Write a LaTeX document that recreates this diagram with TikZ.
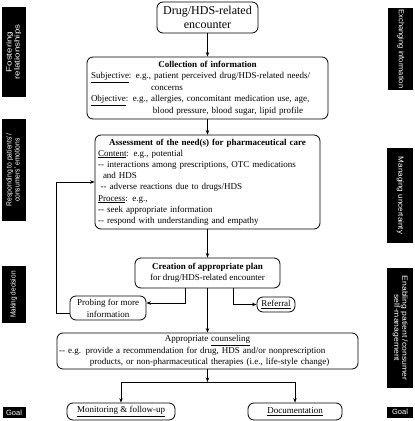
\documentclass[tikz,border=0pt]{standalone}
\usepackage{fontspec}
\setmainfont{Liberation Serif}
\setsansfont{Liberation Sans}
\usetikzlibrary{arrows.meta}
\newcommand\dd{-\kern0.2pt-}
\newcommand\stlab[2]{\scalebox{#1}[1]{\def\arraystretch{0.95}\begin{tabular}{@{}c@{}}#2\end{tabular}}}
\begin{document}
\begin{tikzpicture}[x=1pt,y=-1pt,
  box/.style={draw, rounded corners=6pt, line width=0.8pt, inner xsep=3pt, inner ysep=0pt,
    font=\fontsize{9}{11.5}\selectfont},
  lab/.style={fill=black, text=white, inner sep=0pt, align=center,
    font=\sffamily\fontsize{7.5}{8.5}\selectfont},
  arr/.style={-{Stealth[length=4.5pt,width=3.5pt]}, line width=0.7pt}]
\useasboundingbox (0,0) rectangle (415,421);

% side labels
\node[lab, rotate=90, minimum width=90pt, minimum height=24pt] (l1) at (14,52) {\stlab{1.3}{Fostering\\relationships}};
\node[lab, rotate=90, minimum width=102pt, minimum height=24pt] (l2) at (14,170) {\stlab{0.9}{Responding to patients'/\\consumers' emotions}};
\node[lab, rotate=90, minimum width=57pt, minimum height=24pt] (l3) at (14,294.5) {\stlab{0.86}{Making decision}};
\node[lab, minimum width=23pt, minimum height=11pt] (l4) at (14,412.5) {Goal};
\node[lab, rotate=-90, minimum width=82pt, minimum height=25pt] (r1) at (400.5,49) {\stlab{1.0}{Exchanging information}};
\node[lab, rotate=-90, minimum width=95pt, minimum height=26pt] (r2) at (400,195.5) {\stlab{1.08}{Managing uncertainty}};
\node[lab, rotate=-90, minimum width=120pt, minimum height=26pt] (r3) at (400,328) {\stlab{1.15}{Enabling patient /consumer\\self-management}};
\node[lab, minimum width=26pt, minimum height=11pt] (r4) at (400,412) {Goal};

% main boxes
\node[box, minimum width=101pt, minimum height=31pt, align=center,
  font=\fontsize{12}{14}\selectfont] (top) at (207.5,17.5) {Drug/HDS-related\\encounter};

\node[box, minimum width=241pt, minimum height=62pt, text width=233pt, inner xsep=4pt, align=left] (coll) at (207.5,88)
{\makebox[233pt]{\textbf{Collection of information}}\\
\underline{Subjective}: e.g., patient perceived drug/HDS-related needs/\\
\hspace*{60pt}concerns\\
\underline{Objective}: e.g., allergies, concomitant medication use, age,\\
\hspace*{62pt}blood pressure, blood sugar, lipid profile};

\node[box, minimum width=225pt, minimum height=94pt, text width=219pt, align=left,
  font=\fontsize{9}{11.2}\selectfont] (assess) at (207.5,182)
{\makebox[219pt]{\textbf{Assessment of the need(s) for pharmaceutical care}}\\
\underline{Content}: e.g., potential\\
\dd\ interactions among prescriptions, OTC medications\\
\hspace*{5pt}and HDS\\
\hspace*{2.5pt}\dd\ adverse reactions due to drugs/HDS\\
\underline{Process}: e.g.,\\
\dd\ seek appropriate information\\
\dd\ respond with understanding and empathy};

\node[box, minimum width=145pt, minimum height=30pt, align=center] (plan) at (207.5,273)
{\textbf{Creation of appropriate plan}\\for drug/HDS-related encounter};

\node[box, minimum width=76pt, minimum height=24pt, align=center,
  font=\fontsize{9}{12}\selectfont] (probe) at (108,308) {Probing for more\\information};

\node[box, minimum width=38pt, minimum height=15pt] (ref) at (276,304.5) {\underline{Referral}};

\node[box, minimum width=301pt, minimum height=36pt, text width=297pt, inner xsep=2pt, align=left] (couns) at (207.5,351)
{\makebox[297pt]{Appropriate \underline{counseling}}\\
\dd\ e.g. provide a recommendation for drug, HDS and/or nonprescription\\
\hspace*{31pt}products, or non-pharmaceutical therapies (i.e., life-style change)};

\node[box, minimum width=108pt, minimum height=17pt] (mon) at (121,411.5) {\underline{Monitoring \& follow-up}};
\node[box, minimum width=94pt, minimum height=17pt] (doc) at (295,411.5) {\underline{Documentation}};

% connectors
\draw[arr] (top.south) -- (coll.north);
\draw[arr] (coll.south) -- (assess.north);
\draw[arr] (assess.south) -- (plan.north);
\draw[arr] ([xshift=-22.5pt]plan.south) |- ([yshift=5pt]probe.east);
\draw[arr] ([xshift=25.5pt]plan.south) |- (ref.west);
\draw[arr] ([yshift=-5pt]probe.west) -- ++(-13,0) |- (assess.west);
\draw[arr] (plan.south) -- (couns.north);
\coordinate (junc) at (207.5,382);
\draw[arr] (couns.south) -- (junc);
\draw[arr] (junc) -| (mon.north);
\draw[arr] (junc) -| (doc.north);
\end{tikzpicture}
\end{document}
